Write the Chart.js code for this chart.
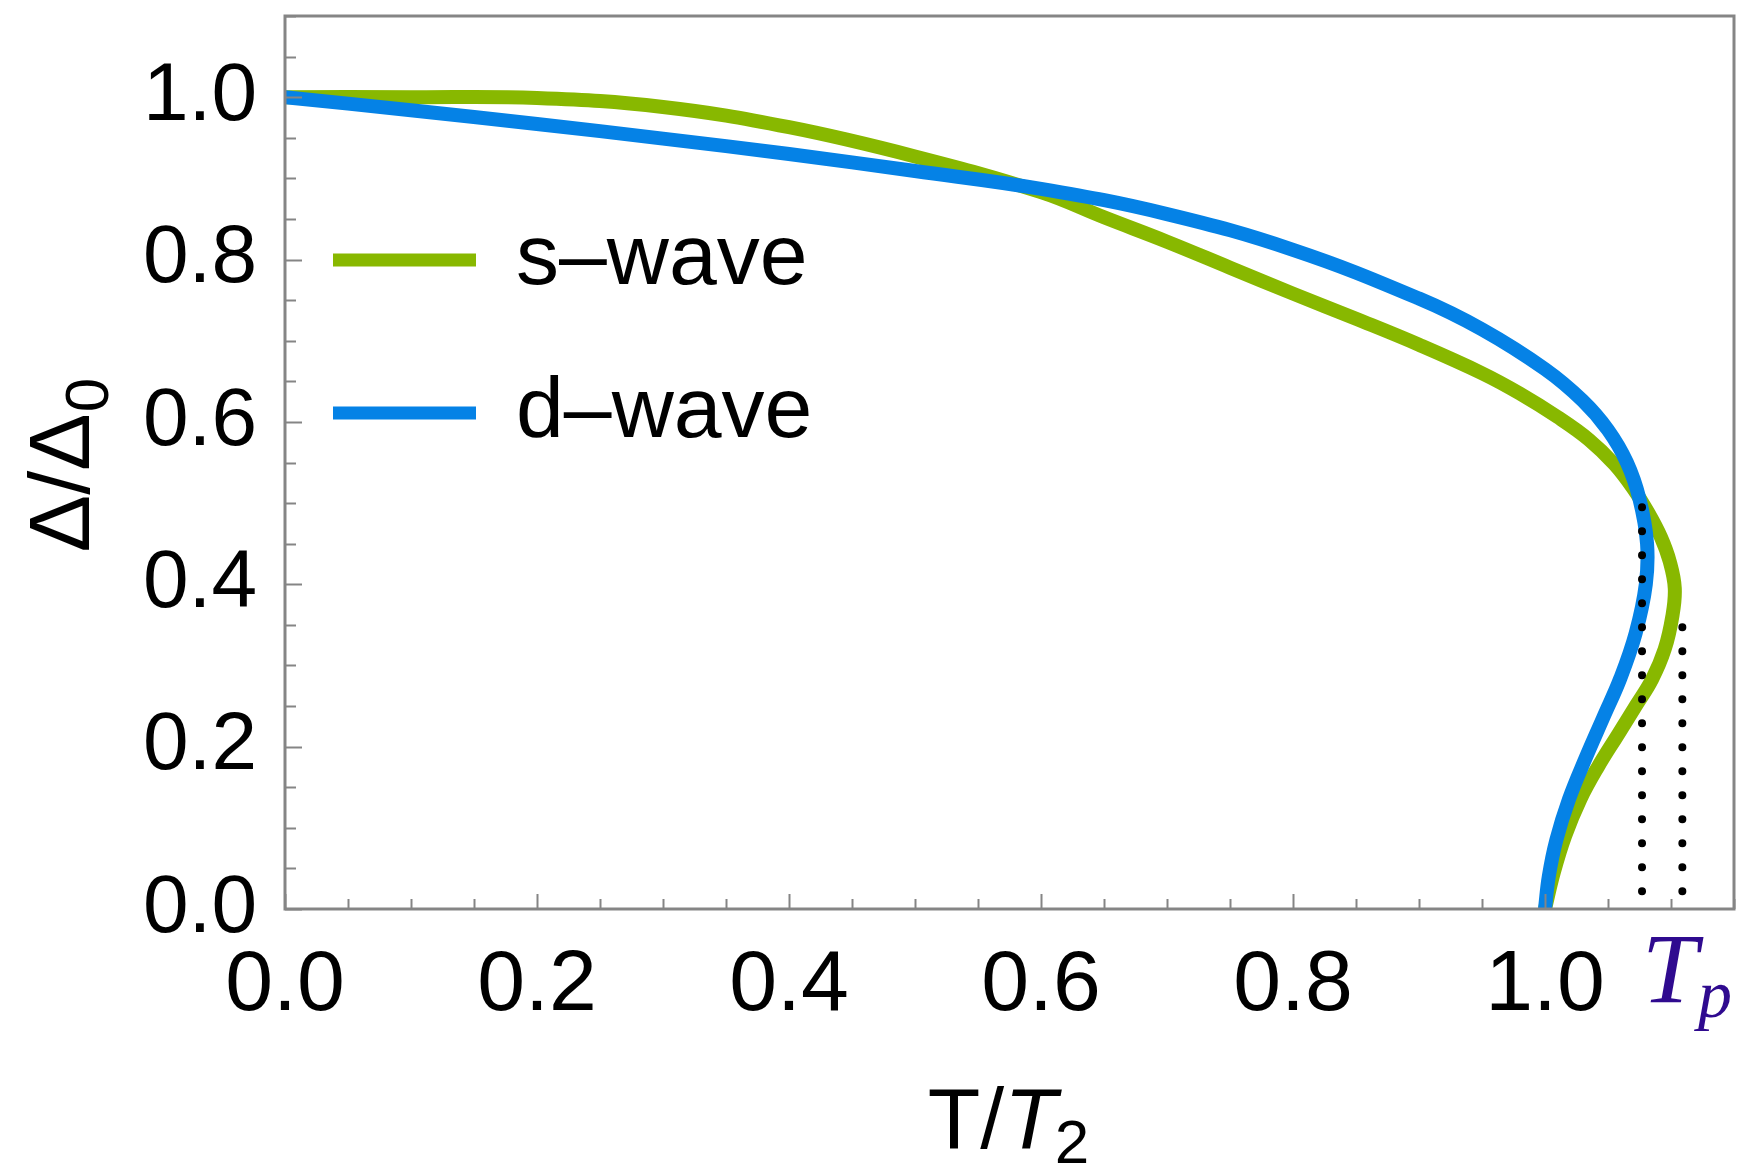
<!DOCTYPE html>
<html lang="en">
<head>
<meta charset="UTF-8">
<title>Gap vs temperature: s-wave and d-wave</title>
<script src="https://cdn.jsdelivr.net/npm/chart.js"></script>
<style>
  html, body { margin: 0; padding: 0; background: #fff; }
  #wrap { width: 1748px; height: 1171px; }
</style>
</head>
<body>
<div id="wrap"><canvas id="gapChart" width="1748" height="1171"></canvas></div>
<script>
// curves, ordered along the curve from (0, 1) to (1, 0)
const sWaveT   = [0, 0.1, 0.2, 0.3, 0.4, 0.5, 0.6, 0.65, 0.7, 0.75, 0.8, 0.85, 0.9, 0.95, 0.98, 1.01,
                  1.035, 1.055, 1.07, 1.082, 1.092, 1.099, 1.103, 1.101, 1.095, 1.085, 1.072, 1.058,
                  1.042, 1.028, 1.016, 1.007, 1.0];
const sWaveGap = [1.0, 1.0, 0.999, 0.988, 0.963, 0.927, 0.883, 0.852, 0.822, 0.790, 0.758, 0.727, 0.695,
                  0.660, 0.635, 0.606, 0.578, 0.548, 0.518, 0.488, 0.458, 0.428, 0.395, 0.360, 0.320,
                  0.283, 0.250, 0.215, 0.175, 0.135, 0.090, 0.045, 0.0];

const dWaveT   = [0, 0.1, 0.2, 0.3, 0.4, 0.5, 0.6, 0.7, 0.8, 0.9, 0.95, 1.0, 1.03, 1.05, 1.065, 1.075,
                  1.081, 1.080, 1.072, 1.060, 1.046, 1.032, 1.019, 1.009, 1.003, 1.0];
const dWaveGap = [1.0, 0.984, 0.967, 0.949, 0.930, 0.909, 0.887, 0.856, 0.812, 0.752, 0.714, 0.665, 0.626,
                  0.590, 0.550, 0.505, 0.450, 0.400, 0.340, 0.285, 0.235, 0.185, 0.135, 0.085, 0.040, 0.0];

// dotted guides at the turning points (s-wave, d-wave)
const tpT = [1.109, 1.077];
const tpTop = [0.352, 0.496];
const tpBottom = 0.022;

const seriesNames = ['s\u2013wave', 'd\u2013wave'];
const majorTicks = [0, 0.2, 0.4, 0.6, 0.8, 1.0];
const tickLabels = ['0.0', '0.2', '0.4', '0.6', '0.8', '1.0'];

const GREEN = '#88b800';
const BLUE = '#0582e6';
const FRAME = '#858585';
const FONT = '"Liberation Sans", Arial, sans-serif';

function toPoints(xs, ys) {
  return xs.map((x, i) => ({ x: x, y: ys[i] }));
}

function majorIndex(v) {
  return majorTicks.findIndex(m => Math.abs(m - v) < 1e-6);
}

function tickLabel(v) {
  const i = majorIndex(v);
  return i >= 0 ? tickLabels[i] : '';
}

// frame, inward ticks, legend and axis titles
const decorations = {
  id: 'decorations',
  afterDatasetsDraw(chart) {
    const ctx = chart.ctx;
    const a = chart.chartArea;
    const xs = chart.scales.x, ys = chart.scales.y;
    ctx.save();
    ctx.strokeStyle = FRAME;
    ctx.lineWidth = 2;
    ys.ticks.forEach(t => {
      const py = Math.round(ys.getPixelForValue(t.value)) + 0.5;
      const len = majorIndex(t.value) >= 0 ? 17 : 11;
      ctx.beginPath(); ctx.moveTo(a.left, py); ctx.lineTo(a.left + len, py); ctx.stroke();
    });
    xs.ticks.forEach(t => {
      const px = Math.round(xs.getPixelForValue(t.value)) + 0.5;
      const len = majorIndex(t.value) >= 0 ? 15 : 10;
      ctx.beginPath(); ctx.moveTo(px, a.bottom); ctx.lineTo(px, a.bottom - len); ctx.stroke();
    });
    ctx.lineWidth = 3;
    ctx.strokeRect(a.left, a.top, a.right - a.left, a.bottom - a.top);
    ctx.restore();
  },
  afterDraw(chart) {
    const ctx = chart.ctx;
    const a = chart.chartArea;
    ctx.save();

    // legend
    const colors = [GREEN, BLUE];
    seriesNames.forEach((name, i) => {
      const y = a.top + 244 + i * 153;
      ctx.strokeStyle = colors[i];
      ctx.lineWidth = 13;
      ctx.lineCap = 'butt';
      ctx.beginPath(); ctx.moveTo(a.left + 48, y); ctx.lineTo(a.left + 191, y); ctx.stroke();
      ctx.fillStyle = '#000';
      ctx.font = '86px ' + FONT;
      ctx.textAlign = 'left';
      ctx.textBaseline = 'middle';
      ctx.fillText(name, a.left + 231, y);
    });

    // y title: Δ/Δ0, rotated
    ctx.save();
    const cy = (a.top + a.bottom) / 2 + 3;
    ctx.font = '86px ' + FONT;
    const w1 = ctx.measureText('\u0394/\u0394').width;
    ctx.font = '62px ' + FONT;
    const w2 = ctx.measureText('0').width;
    ctx.translate(89, cy + (w1 + w2) / 2);
    ctx.rotate(-Math.PI / 2);
    ctx.fillStyle = '#000';
    ctx.textAlign = 'left';
    ctx.textBaseline = 'alphabetic';
    ctx.font = '86px ' + FONT;
    ctx.fillText('\u0394/\u0394', 0, 0);
    ctx.font = '62px ' + FONT;
    ctx.fillText('0', w1 + 1, 19);
    ctx.restore();

    // x title: T/T2
    const cx = (a.left + a.right) / 2;
    ctx.fillStyle = '#000';
    ctx.textAlign = 'left';
    ctx.textBaseline = 'alphabetic';
    ctx.font = '86px ' + FONT;
    const p1 = ctx.measureText('T/').width;
    ctx.font = 'italic 86px ' + FONT;
    const p2 = ctx.measureText('T').width;
    ctx.font = '62px ' + FONT;
    const p3 = ctx.measureText('2').width;
    const x0 = cx - (p1 + p2 + p3) / 2;
    const base = 1148;
    ctx.font = '86px ' + FONT;
    ctx.fillText('T/', x0, base);
    ctx.font = 'italic 86px ' + FONT;
    ctx.fillText('T', x0 + p1, base);
    ctx.font = '62px ' + FONT;
    ctx.fillText('2', x0 + p1 + p2 - 2, base + 15);

    // Tp marker label
    ctx.fillStyle = '#2f0a8f';
    ctx.font = 'italic 100px "Liberation Serif", "Times New Roman", serif';
    ctx.fillText('T', a.right - 92, 1002);
    ctx.font = 'italic 68px "Liberation Serif", "Times New Roman", serif';
    ctx.fillText('p', a.right - 36, 1017);

    ctx.restore();
  }
};

new Chart(document.getElementById('gapChart'), {
  type: 'scatter',
  data: {
    datasets: [
      {
        label: seriesNames[0],
        data: toPoints(sWaveT, sWaveGap),
        showLine: true,
        borderColor: GREEN,
        backgroundColor: GREEN,
        borderWidth: 14,
        pointRadius: 0,
        tension: 0.4,
        order: 3
      },
      {
        label: seriesNames[1],
        data: toPoints(dWaveT, dWaveGap),
        showLine: true,
        borderColor: BLUE,
        backgroundColor: BLUE,
        borderWidth: 14,
        pointRadius: 0,
        tension: 0.4,
        order: 2
      },
      {
        label: '',
        data: [{ x: tpT[0], y: tpBottom }, { x: tpT[0], y: tpTop[0] }],
        showLine: true,
        borderColor: '#000',
        borderWidth: 8,
        borderDash: [0, 24],
        borderCapStyle: 'round',
        pointRadius: 0,
        order: 1
      },
      {
        label: '',
        data: [{ x: tpT[1], y: tpBottom }, { x: tpT[1], y: tpTop[1] }],
        showLine: true,
        borderColor: '#000',
        borderWidth: 8,
        borderDash: [0, 24],
        borderCapStyle: 'round',
        pointRadius: 0,
        order: 1
      }
    ]
  },
  options: {
    responsive: false,
    animation: false,
    layout: { padding: { top: 16, right: 14, left: 0, bottom: 0 } },
    plugins: {
      legend: { display: false },
      tooltip: { enabled: false }
    },
    scales: {
      x: {
        type: 'linear',
        min: 0,
        max: 1.15,
        grid: { display: false },
        border: { display: false },
        ticks: {
          stepSize: 0.05,
          autoSkip: false,
          maxRotation: 0,
          padding: 18,
          color: '#000',
          font: { family: FONT, size: 86 },
          callback: v => tickLabel(v)
        },
        afterFit(scale) {
          scale.height = 262;
          scale.paddingLeft = 0;
          scale.paddingRight = 0;
        }
      },
      y: {
        type: 'linear',
        min: 0,
        max: 1.1,
        grid: { display: false },
        border: { display: false },
        ticks: {
          stepSize: 0.05,
          autoSkip: false,
          padding: 20,
          color: '#000',
          font: { family: FONT, size: 82 },
          callback: v => tickLabel(v)
        },
        afterFit(scale) {
          scale.width = 285;
          scale.paddingTop = 0;
          scale.paddingBottom = 0;
        }
      }
    }
  },
  plugins: [decorations]
});
</script>
</body>
</html>
